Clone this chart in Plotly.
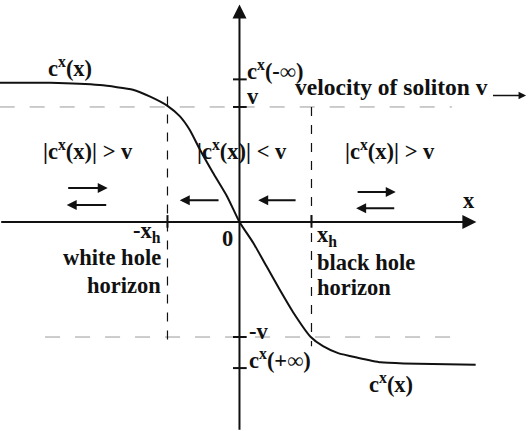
import plotly.graph_objects as go

# ========================
# Data (x in units of x_h, c in units of v)
# ========================
curve_x = [-3.33, -2.63, -1.94, -1.48, -1.24, -1.00, -0.83, -0.69, -0.55, -0.37, -0.17,
           0.0, 0.19, 0.38, 0.56, 0.74, 0.99, 1.16, 1.37, 1.64, 1.96, 2.28, 3.28]
curve_c = [1.21, 1.21, 1.19, 1.15, 1.09, 1.01, 0.92, 0.80, 0.63, 0.43, 0.22,
           0.0, -0.18, -0.39, -0.59, -0.78, -1.00, -1.08, -1.14, -1.18, -1.22, -1.23, -1.24]

x_h = 1.0
v = 1.0
c_minus_inf = 1.24
c_plus_inf = -1.27

y_ticks = [c_minus_inf, v, -v, c_plus_inf]
x_ticks = [-x_h, x_h]

FONT = "Liberation Serif, Times New Roman, serif"
BLACK = "#111111"

fig = go.Figure()

fig.add_trace(go.Scatter(x=curve_x, y=curve_c, mode="lines",
                         line=dict(color=BLACK, width=2, shape="spline", smoothing=0.5),
                         hoverinfo="none", showlegend=False))

shapes = []
# horizontal dashed levels at +v and -v
shapes.append(dict(type="line", x0=-3.33, x1=2.95, y0=v, y1=v,
                   line=dict(color="#999999", width=1, dash="longdash")))
shapes.append(dict(type="line", x0=-2.70, x1=3.03, y0=-v, y1=-v,
                   line=dict(color="#999999", width=1, dash="longdash")))
# vertical dashed horizons
shapes.append(dict(type="line", x0=-x_h, x1=-x_h, y0=1.09, y1=-1.10,
                   line=dict(color=BLACK, width=1.2, dash="dash")))
shapes.append(dict(type="line", x0=x_h, x1=x_h, y0=1.0, y1=-1.08,
                   line=dict(color=BLACK, width=1.2, dash="dash")))
# ticks
for t in y_ticks:
    shapes.append(dict(type="line", x0=-0.09, x1=0.10, y0=t, y1=t,
                       line=dict(color=BLACK, width=2)))
for t in x_ticks:
    shapes.append(dict(type="line", x0=t, x1=t, y0=0.06, y1=-0.05,
                       line=dict(color=BLACK, width=2)))

annotations = []


def arrow(x0, y0, x1, y1, width=2, size=1.0):
    annotations.append(dict(x=x1, y=y1, ax=x0, ay=y0, xref="x", yref="y",
                            axref="x", ayref="y", text="", showarrow=True,
                            arrowhead=2, arrowsize=size, arrowwidth=width,
                            arrowcolor=BLACK, standoff=0, startstandoff=0))


# axes
arrow(-3.33, 0, 3.29, 0, width=2, size=1.4)
arrow(0, -1.82, 0, 1.89, width=2, size=1.4)

# flow arrows
arrow(-2.40, 0.296, -1.83, 0.296)
arrow(-1.83, 0.148, -2.40, 0.148)
arrow(-0.27, 0.19, -0.83, 0.19)
arrow(0.80, 0.19, 0.26, 0.19)
arrow(1.62, 0.26, 2.17, 0.26)
arrow(2.17, 0.12, 1.62, 0.12)
arrow(3.50, 1.10, 3.98, 1.10, width=1.5, size=1.0)


def label(text, x, y, anchor="center", size=22.5):
    annotations.append(dict(x=x, y=y, xref="x", yref="y", text="<b>" + text + "</b>",
                            showarrow=False, xanchor=anchor, yanchor="middle",
                            font=dict(family=FONT, size=size, color=BLACK)))


cx = "c<sup>x</sup>"
label(cx + "(x)", -2.35, 1.35)
label(cx + "(-∞)", 0.07, 1.32, "left")
label("v", 0.08, 1.09, "left")
label("velocity of soliton v", 0.74, 1.17, "left", size=23.5)
label("|" + cx + "(x)| &gt; v", -2.10, 0.63)
label("|" + cx + "(x)| &lt; v", 0.03, 0.63)
label("|" + cx + "(x)| &gt; v", 2.09, 0.63)
label("x", 3.19, 0.19)
label("-x<sub>h</sub>", -1.06, -0.09, "right")
label("0", -0.17, -0.14)
label("white hole", -1.06, -0.31, "right")
label("horizon", -1.06, -0.55, "right")
label("x<sub>h</sub>", 1.05, -0.12, "left")
label("black hole", 1.05, -0.35, "left")
label("horizon", 1.05, -0.57, "left")
label("-v", 0.10, -0.95, "left")
label(cx + "(+∞)", 0.10, -1.19, "left")
label(cx + "(x)", 2.10, -1.40)

fig.update_layout(width=528, height=431,
                  margin=dict(l=0, r=0, t=0, b=0),
                  paper_bgcolor="white", plot_bgcolor="white",
                  xaxis=dict(range=[-3.326, 4.007], visible=False, fixedrange=True),
                  yaxis=dict(range=[-1.817, 1.930], visible=False, fixedrange=True),
                  shapes=shapes, annotations=annotations, showlegend=False)

fig.write_html("out.html", config={"displayModeBar": False},
               post_script="document.body.style.margin='0';document.body.style.overflow='hidden';")
